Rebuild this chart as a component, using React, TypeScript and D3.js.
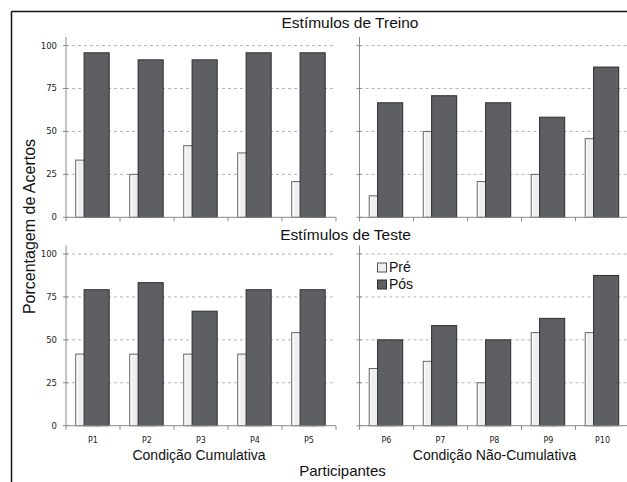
import * as d3 from 'd3';

const cumulative = ['P1', 'P2', 'P3', 'P4', 'P5'];
const nonCumulative = ['P6', 'P7', 'P8', 'P9', 'P10'];
const yTicks = [0, 25, 50, 75, 100];

// Estímulos de Treino
const treinoPre = [33.3, 25, 41.7, 37.5, 20.8, 12.5, 50, 20.8, 25, 45.8];
const treinoPos = [95.8, 91.7, 91.7, 95.8, 95.8, 66.7, 70.8, 66.7, 58.3, 87.5];
// Estímulos de Teste
const testePre = [41.7, 41.7, 41.7, 41.7, 54.2, 33.3, 37.5, 25, 54.2, 54.2];
const testePos = [79.2, 83.3, 66.7, 79.2, 79.2, 50, 58.3, 50, 62.5, 87.5];

const W = 627;
const H = 482;
const PRE = '#eeefee';
const POS = '#5e5f63';
const tickFont = '"DejaVu Sans", Verdana, sans-serif';
const labelFont = '"Liberation Sans", Arial, sans-serif';

const xLeft = d3.scaleBand<string>().domain(cumulative).range([66, 336]);
const xRight = d3.scaleBand<string>().domain(nonCumulative).range([359.5, 629.5]);

function Panel({
  x,
  y,
  pre,
  pos,
  showY,
  showX,
}: {
  x: d3.ScaleBand<string>;
  y: d3.ScaleLinear<number, number>;
  pre: number[];
  pos: number[];
  showY: boolean;
  showX: boolean;
}) {
  const [x0, x1] = x.range();
  const bw = x.bandwidth();
  const names = x.domain();
  return (
    <g>
      {yTicks.slice(1).map((t) => (
        <line key={t} x1={x0} x2={x1} y1={y(t)} y2={y(t)} stroke="#b4b4b4" strokeDasharray="3,3" />
      ))}
      {names.map((p, i) => (
        <g key={p}>
          <rect
            x={x(p)! + 0.18 * bw}
            y={y(pre[i])}
            width={0.46 * bw}
            height={y(0) - y(pre[i])}
            fill={PRE}
            stroke="#666"
            strokeWidth={1}
          />
          <line
            x1={x(p)! + 0.18 * bw + 1.5}
            x2={x(p)! + 0.18 * bw + 1.5}
            y1={y(pre[i]) + 1}
            y2={y(0)}
            stroke="#fff"
          />
          <rect
            x={x(p)! + 0.335 * bw}
            y={y(pos[i])}
            width={0.465 * bw}
            height={y(0) - y(pos[i])}
            fill={POS}
            stroke="#2e2e30"
            strokeWidth={1}
          />
        </g>
      ))}
      <line x1={x0} x2={x0} y1={y.range()[1]} y2={y(0)} stroke="#8a8a8a" />
      <line x1={x0} x2={x1} y1={y(0)} y2={y(0)} stroke="#8a8a8a" />
      {[...names.map((p) => x(p)!), x1].map((t, i) => (
        <line key={i} x1={t} x2={t} y1={y(0)} y2={y(0) + 4} stroke="#8a8a8a" />
      ))}
      {yTicks.map((t) => (
        <line key={t} x1={x0 - 3} x2={x0 + 2} y1={y(t)} y2={y(t)} stroke="#8a8a8a" />
      ))}
      {showY &&
        yTicks.map((t) => (
          <text
            key={t}
            x={57}
            y={y(t)}
            dy="0.35em"
            textAnchor="end"
            fontFamily={tickFont}
            fontSize={8.5}
            fill="#222"
          >
            {t}
          </text>
        ))}
      {showX &&
        names.map((p) => (
          <text
            key={p}
            x={x(p)! + bw / 2}
            y={y(0) + 14}
            dy="0.35em"
            textAnchor="middle"
            fontFamily={tickFont}
            fontSize={8}
            fill="#222"
          >
            {p}
          </text>
        ))}
    </g>
  );
}

export default function App() {
  const yTop = d3.scaleLinear().domain([0, 105]).range([217.3, 37]);
  const yBot = d3.scaleLinear().domain([0, 105]).range([425.7, 245.4]);

  return (
    <svg
      width={W}
      height={H}
      style={{position: 'absolute', left: 0, top: 0, background: '#fff'}}
    >
      <rect width={W} height={H} fill="#fff" />
      <line x1={11.5} x2={W} y1={11.5} y2={11.5} stroke="#111" strokeWidth={1.5} />
      <line x1={11.5} x2={11.5} y1={11.5} y2={H} stroke="#111" strokeWidth={1.5} />

      <text x={350} y={22.5} dy="0.35em" textAnchor="middle" fontFamily={labelFont} fontSize={15.5} fill="#111">
        Estímulos de Treino
      </text>
      <text x={345.5} y={235} dy="0.35em" textAnchor="middle" fontFamily={labelFont} fontSize={15.5} fill="#111">
        Estímulos de Teste
      </text>

      <Panel x={xLeft} y={yTop} pre={treinoPre.slice(0, 5)} pos={treinoPos.slice(0, 5)} showY showX={false} />
      <Panel x={xRight} y={yTop} pre={treinoPre.slice(5)} pos={treinoPos.slice(5)} showY={false} showX={false} />
      <Panel x={xLeft} y={yBot} pre={testePre.slice(0, 5)} pos={testePos.slice(0, 5)} showY showX />
      <Panel x={xRight} y={yBot} pre={testePre.slice(5)} pos={testePos.slice(5)} showY={false} showX />

      <g fontFamily={labelFont} fontSize={14} fill="#111">
        <rect x={377.5} y={263} width={9} height={9} fill={PRE} stroke="#555" />
        <text x={389} y={267.5} dy="0.35em">Pré</text>
        <rect x={377.5} y={280} width={9} height={9} fill={POS} stroke="#2e2e30" />
        <text x={389} y={284.5} dy="0.35em">Pós</text>
      </g>

      <text x={199} y={455} dy="0.35em" textAnchor="middle" fontFamily={labelFont} fontSize={14} fill="#111">
        Condição Cumulativa
      </text>
      <text x={494.5} y={455} dy="0.35em" textAnchor="middle" fontFamily={labelFont} fontSize={14} fill="#111">
        Condição Não-Cumulativa
      </text>
      <text x={342.5} y={471} dy="0.35em" textAnchor="middle" fontFamily={labelFont} fontSize={15} fill="#111">
        Participantes
      </text>
      <text
        transform="translate(29.5,226.5) rotate(-90)"
        dy="0.35em"
        textAnchor="middle"
        fontFamily={labelFont}
        fontSize={16}
        fill="#111"
      >
        Porcentagem de Acertos
      </text>
    </svg>
  );
}
